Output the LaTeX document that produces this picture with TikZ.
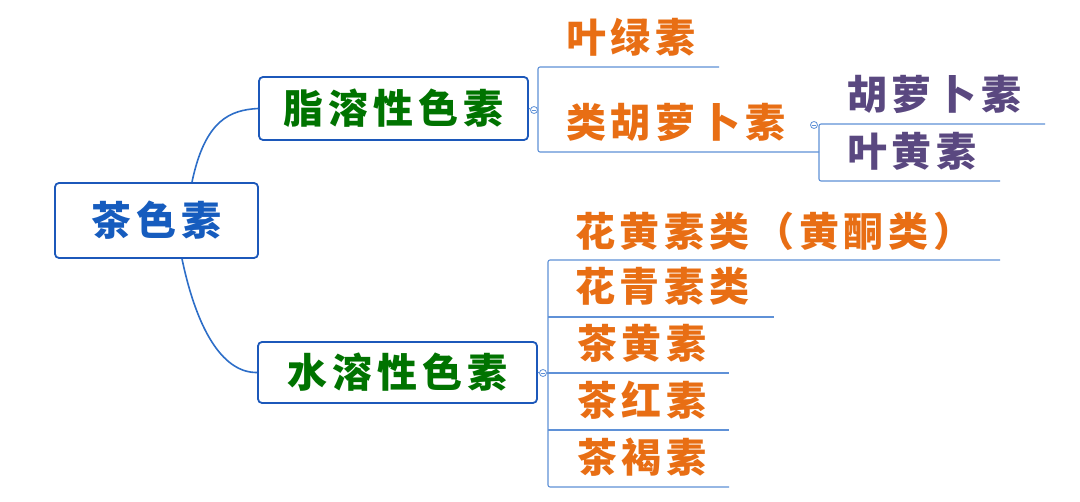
\documentclass[tikz,border=0pt]{standalone}
\usepackage{fontspec}
\newfontfamily\cjk{Noto Sans CJK SC}[LetterSpace=12]
\definecolor{boxblue}{RGB}{28,88,186}
\definecolor{rootblue}{RGB}{22,92,190}
\definecolor{linkblue}{RGB}{45,110,200}
\definecolor{branchblue}{RGB}{95,145,215}
\definecolor{pigreen}{RGB}{0,115,0}
\definecolor{piorange}{RGB}{232,110,20}
\definecolor{pipurple}{RGB}{90,72,128}
\tikzset{
  topic/.style={draw=boxblue, line width=1.8pt, rounded corners=4pt, fill=white, inner sep=0pt},
  leaf/.style={anchor=west, inner sep=0pt, text=piorange},
  link/.style={draw=linkblue, line width=1.6pt},
  branch/.style={draw=branchblue, line width=1.1pt},
  fold/.style={circle, draw=branchblue, fill=white, line width=0.8pt, minimum size=7pt, inner sep=0pt,
    path picture={\draw[branchblue, line width=0.6pt] ([xshift=-2pt]path picture bounding box.center) -- ([xshift=2pt]path picture bounding box.center);}},
}
\begin{document}
\begin{tikzpicture}[x=1pt, y=-1pt, every node/.style={font=\cjk\bfseries\fontsize{40pt}{44pt}\selectfont}]
\fill[white] (0,0) rectangle (1080,502);
\useasboundingbox (0,0) rectangle (1080,502);
% main topics
\node[topic, text=rootblue, minimum width=203pt, minimum height=75pt] (root) at (156.5,220.5) {茶色素};
\node[topic, text=pigreen, minimum width=269pt, minimum height=63pt] (fat) at (393.5,108.5) {脂溶性色素};
\node[topic, text=pigreen, minimum width=279pt, minimum height=61pt] (water) at (397.5,372.5) {水溶性色素};
\draw[link] ([xshift=35.5pt]root.north) .. controls (205,120) and (230,110) .. (fat.west);
\draw[link] ([xshift=25.5pt]root.south) .. controls (198,335) and (225,373) .. (water.west);
% fat soluble
\coordinate (chlend) at (719,67);
\coordinate (subtop) at (1045,124);
\coordinate (subbot) at (1000,181);
\draw[branch, rounded corners=2pt] (chlend) -- (538,67) -- (538,152) -- (819,152);
\draw[branch, rounded corners=2pt] (subtop) -- (819,124) -- (819,181) -- (subbot);
\node[fold] (fatfold) at (534,110) {};
\node[fold] (subfold) at (814,125) {};
\draw[branch] (fat.east) -- (fatfold);
\node[leaf] (chl) at (566,37) {叶绿素};
\node[leaf] (car) at (566,122) {类胡萝卜素};
\node[leaf, text=pipurple] (caro) at (847,94) {胡萝卜素};
\node[leaf, text=pipurple] (lut) at (847,151) {叶黄素};
% water soluble
\coordinate (flavend) at (1000,260);
\coordinate (anthend) at (774,317);
\coordinate (tfend) at (729,373);
\coordinate (trend) at (729,430);
\coordinate (tbend) at (729,487);
\draw[branch, rounded corners=2pt] (flavend) -- (548,260) -- (548,487) -- (tbend);
\draw[branch] (548,317) -- (anthend);
\draw[branch] (548,430) -- (trend);
\node[fold] (waterfold) at (543,373) {};
\draw[branch] (water.east) -- (waterfold);
\draw[branch] (waterfold) -- (tfend);
\node[leaf] (flav) at (575,231) {花黄素类（黄酮类）};
\node[leaf] (anth) at (575,286) {花青素类};
\node[leaf] (tf) at (577,343) {茶黄素};
\node[leaf] (tr) at (577,400) {茶红素};
\node[leaf] (tb) at (577,457) {茶褐素};
\end{tikzpicture}
\end{document}
